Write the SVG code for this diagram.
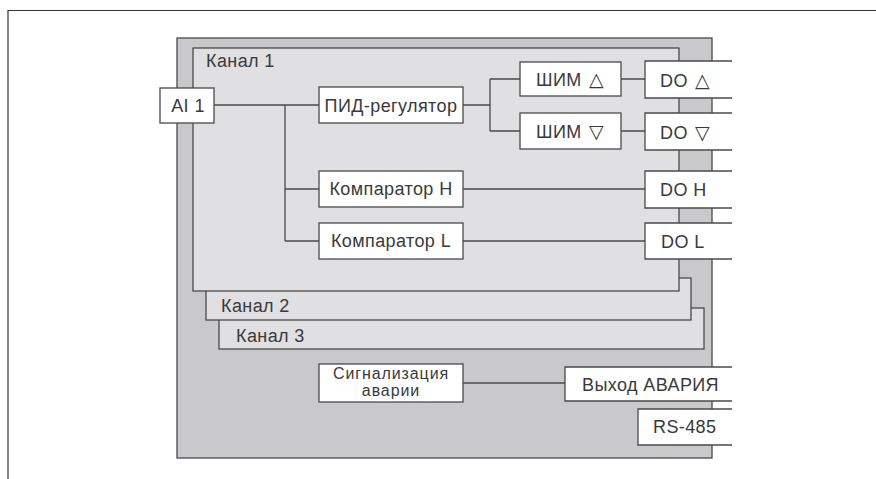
<svg xmlns="http://www.w3.org/2000/svg" width="876" height="479" viewBox="0 0 876 479">
<style>
.frame{fill:none;stroke:#333;stroke-width:1.2}
.main{fill:#c9c9cb;stroke:#4a4a4a;stroke-width:1.3}
.chan{fill:#e0e0e2;stroke:#4a4a4a;stroke-width:1.3}
.box{fill:#fff;stroke:#4a4a4a;stroke-width:1.3}
.open{fill:none;stroke:#4a4a4a;stroke-width:1.3}
.wfill{fill:#fff;stroke:none}
.conn{fill:none;stroke:#4a4a4a;stroke-width:1.3}
text{font-family:"Liberation Sans",Arial,sans-serif;font-size:18px;letter-spacing:0.4px;fill:#3a3a3a}
.c{text-anchor:middle}
.two{font-size:16px;letter-spacing:0.9px}
.tri{font-family:"DejaVu Sans",sans-serif;font-size:19px;letter-spacing:0}
</style>
<rect width="876" height="479" fill="#fff"/>
<path class="frame" d="M8,479 V10.5 H876"/>
<g id="device">
<rect class="main" x="177" y="38" width="535" height="420"/>
</g>
<g id="channel3">
<rect class="chan" x="219" y="308" width="485" height="41"/>
<text x="236" y="342">Канал 3</text>
</g>
<g id="channel2">
<rect class="chan" x="206" y="278" width="485" height="42"/>
<text x="221" y="312">Канал 2</text>
</g>
<g id="channel1">
<rect class="chan" x="193" y="48" width="486" height="243"/>
<text x="206" y="67">Канал 1</text>
</g>
<g id="connectors">
<path class="conn" d="M214,105 H319 M285,105 V241 M285,189 H319 M285,241 H319"/>
<path class="conn" d="M463,105 H490 M490,79 V131 M490,79 H520 M490,131 H520"/>
<path class="conn" d="M621,79 H645 M621,131 H645"/>
<path class="conn" d="M463,189 H645 M463,241 H645"/>
<path class="conn" d="M463,383 H565"/>
</g>
<g id="ai1">
<rect class="box" x="160" y="88" width="54" height="35"/>
<text class="c" x="188" y="112">AI 1</text>
</g>
<g id="pid">
<rect class="box" x="319" y="87" width="144" height="36"/>
<text class="c" x="391" y="112">ПИД-регулятор</text>
</g>
<g id="pwm-up">
<rect class="box" x="520" y="62" width="101" height="34"/>
<text x="536" y="86">ШИМ<tspan class="tri" x="589">△</tspan></text>
</g>
<g id="pwm-down">
<rect class="box" x="520" y="113" width="101" height="36"/>
<text x="536" y="138">ШИМ<tspan class="tri" x="589">▽</tspan></text>
</g>
<g id="do-up">
<rect class="wfill" x="645" y="61" width="87" height="37"/>
<path class="open" d="M732,61 H645 V98 H732"/>
<text x="660" y="87">DO<tspan class="tri" x="695">△</tspan></text>
</g>
<g id="do-down">
<rect class="wfill" x="645" y="113" width="87" height="37"/>
<path class="open" d="M732,113 H645 V150 H732"/>
<text x="660" y="139">DO<tspan class="tri" x="695">▽</tspan></text>
</g>
<g id="comp-h">
<rect class="box" x="319" y="171" width="144" height="36"/>
<text class="c" x="391" y="195">Компаратор H</text>
</g>
<g id="comp-l">
<rect class="box" x="319" y="223" width="144" height="36"/>
<text class="c" x="391" y="247">Компаратор L</text>
</g>
<g id="do-h">
<rect class="wfill" x="645" y="171" width="87" height="37"/>
<path class="open" d="M732,171 H645 V208 H732"/>
<text x="660" y="196">DO H</text>
</g>
<g id="do-l">
<rect class="wfill" x="645" y="223" width="87" height="36"/>
<path class="open" d="M732,223 H645 V259 H732"/>
<text x="661" y="248">DO L</text>
</g>
<g id="alarm">
<rect class="box" x="319" y="364" width="144" height="38"/>
<text class="c two" x="391" y="379">Сигнализация</text>
<text class="c two" x="391" y="396">аварии</text>
</g>
<g id="alarm-out">
<rect class="wfill" x="565" y="367" width="167" height="34"/>
<path class="open" d="M732,367 H565 V401 H732"/>
<text x="582" y="391">Выход АВАРИЯ</text>
</g>
<g id="rs485">
<rect class="wfill" x="638" y="409" width="94" height="36"/>
<path class="open" d="M732,409 H638 V445 H732"/>
<text x="653" y="433">RS-485</text>
</g>
</svg>
